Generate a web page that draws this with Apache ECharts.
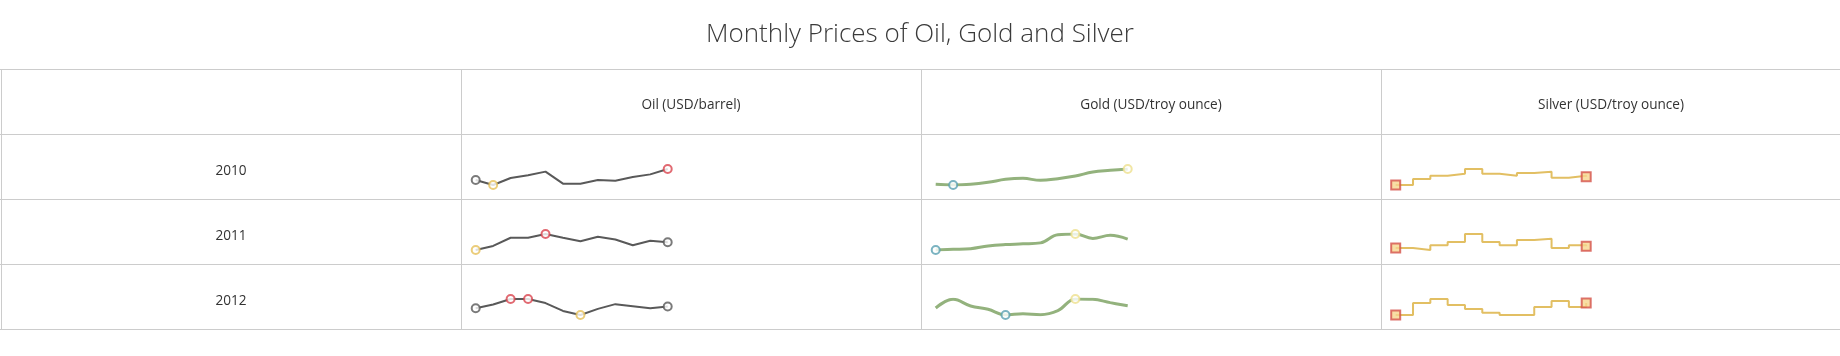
<!DOCTYPE html>
<html>
<head>
<meta charset="utf-8">
<script src="https://cdn.jsdelivr.net/npm/echarts@6/dist/echarts.min.js"></script>
<style>
html,body{margin:0;padding:0;background:#fff;}
#chart{width:1840px;height:356px;}
</style>
</head>
<body>
<div id="chart"></div>
<script>
// ---- data ----
const months = ['Jan','Feb','Mar','Apr','May','Jun','Jul','Aug','Sep','Oct','Nov','Dec'];
const years = ['2010','2011','2012'];
const headers = ['Oil (USD/barrel)','Gold (USD/troy ounce)','Silver (USD/troy ounce)'];
const title = 'Monthly Prices of Oil, Gold and Silver';

const oil2010 = [79.3, 74.0, 81.4, 84.3, 88.2, 75.4, 75.4, 79.3, 78.6, 82.5, 85.3, 91.0];
const oil2011 = [89.0, 95.4, 108.1, 108.1, 114.0, 108.0, 102.8, 109.7, 105.5, 96.4, 103.4, 101.2];
const oil2012 = [96.2, 101.8, 110.0, 110.0, 103.9, 92.1, 86.0, 95.2, 102.3, 99.3, 96.2, 98.8];

const gold2010 = [1093, 1080, 1093, 1133, 1193, 1213, 1173, 1207, 1260, 1340, 1373, 1400];
const gold2011 = [1360, 1377, 1395, 1465, 1500, 1517, 1543, 1753, 1770, 1657, 1735, 1639];
const gold2012 = [1659, 1756, 1681, 1644, 1580, 1595, 1584, 1629, 1760, 1756, 1719, 1685];

const silver2010 = [15.5, 20.75, 23.67, 25.42, 29.5, 25.42, 23.67, 26.0, 27.17, 21.92, 23.67, 22.79];
const silver2011 = [28.75, 26.0, 32.42, 37.0, 48.0, 37.0, 32.42, 39.75, 41.58, 28.75, 32.42, 31.04];
const silver2012 = [27.0, 34.5, 37.0, 33.25, 30.75, 28.46, 27.0, 27.0, 32.0, 35.75, 32.0, 34.5];

const oilRows = [oil2010, oil2011, oil2012];
const goldRows = [gold2010, gold2011, gold2012];
const silverRows = [silver2010, silver2011, silver2012];

// ---- layout ----
const colX = [1, 461, 921, 1381, 1841];
const rowY = [69, 134, 199, 264, 329];
const lineColor = '#cccccc';
const textFont = '13.6px "Open Sans", "Noto Sans", sans-serif';

const grids = [], xAxes = [], yAxes = [], series = [], graphics = [];

function addGrid(col, row, wid) {
  const idx = grids.length;
  grids.push({left: colX[col] + 14.7, top: rowY[row + 1] + 35, width: wid, height: 16, outerBoundsMode: 'none'});
  xAxes.push({type: 'category', data: months, gridIndex: idx, show: false, boundaryGap: false});
  yAxes.push({type: 'value', gridIndex: idx, show: false, min: 'dataMin', max: 'dataMax', scale: true});
  return idx;
}

const mk = (i, v, color, fill, symbol, size) => ({
  value: [i, v], symbol: symbol, symbolSize: size,
  itemStyle: {color: fill, borderColor: color, borderWidth: 2}
});

// Oil
oilRows.forEach((d, r) => {
  const g = addGrid(1, r, 192);
  series.push({type: 'line', xAxisIndex: g, yAxisIndex: g, data: d, symbol: 'none',
    lineStyle: {color: '#595959', width: 2}, silent: true, z: 2});
  const mn = Math.min(...d), mx = Math.max(...d);
  const pts = [];
  d.forEach((v, i) => {
    let c = null;
    if (v === mx) c = '#d9434e';
    else if (v === mn) c = '#e6c15a';
    else if (i === 0 || i === d.length - 1) c = '#595959';
    if (c) pts.push(mk(months[i], v, c, '#ffffff', 'circle', 8));
  });
  series.push({type: 'scatter', xAxisIndex: g, yAxisIndex: g, data: pts, silent: true, z: 3});
});

// Gold
goldRows.forEach((d, r) => {
  const g = addGrid(2, r, 192);
  series.push({type: 'line', xAxisIndex: g, yAxisIndex: g, data: d, symbol: 'none', smooth: 0.4,
    lineStyle: {color: '#93b27d', width: 3}, silent: true, z: 2});
  const mn = Math.min(...d), mx = Math.max(...d);
  const pts = [];
  d.forEach((v, i) => {
    if (v === mx) pts.push(mk(months[i], v, '#ede08d', '#ffffff', 'circle', 8));
    else if (v === mn) pts.push(mk(months[i], v, '#5aa0b2', '#ffffff', 'circle', 8));
  });
  series.push({type: 'scatter', xAxisIndex: g, yAxisIndex: g, data: pts, silent: true, z: 3});
});

// Silver
silverRows.forEach((d, r) => {
  const g = addGrid(3, r, 190.5);
  series.push({type: 'line', xAxisIndex: g, yAxisIndex: g, data: d, symbol: 'none', step: 'end',
    lineStyle: {color: '#e2bf63', width: 2}, silent: true, z: 2});
  const pts = [0, d.length - 1].map(i => mk(months[i], d[i], '#d4514a', '#f6d68f', 'rect', 9));
  series.push({type: 'scatter', xAxisIndex: g, yAxisIndex: g, data: pts, silent: true, z: 3});
});

// table lines
rowY.forEach(y => graphics.push({type: 'line', shape: {x1: 0, y1: y + 0.5, x2: 1840, y2: y + 0.5},
  style: {stroke: lineColor, lineWidth: 1}, silent: true}));
colX.slice(0, 4).forEach(x => graphics.push({type: 'line', shape: {x1: x + 0.5, y1: rowY[0], x2: x + 0.5, y2: rowY[4] + 1},
  style: {stroke: lineColor, lineWidth: 1}, silent: true}));
// header texts
headers.forEach((h, i) => graphics.push({type: 'text', x: (colX[i + 1] + colX[i + 2]) / 2, y: rowY[0] + 36,
  style: {text: h, font: textFont, fill: '#333', textAlign: 'center', textVerticalAlign: 'middle'}, silent: true}));
years.forEach((y, i) => graphics.push({type: 'text', x: (colX[0] + colX[1]) / 2, y: rowY[i + 1] + 37,
  style: {text: y, font: textFont, fill: '#333', textAlign: 'center', textVerticalAlign: 'middle'}, silent: true}));

const chart = echarts.init(document.getElementById('chart'), null, {renderer: 'canvas'});
chart.setOption({
  animation: false,
  title: {text: title, left: 'center', top: 17,
    textStyle: {fontFamily: '"Open Sans", "Noto Sans", sans-serif', fontWeight: 300, fontSize: 26, color: '#3a3a3a'}},
  grid: grids, xAxis: xAxes, yAxis: yAxes, series: series, graphic: graphics
});
</script>
</body>
</html>
